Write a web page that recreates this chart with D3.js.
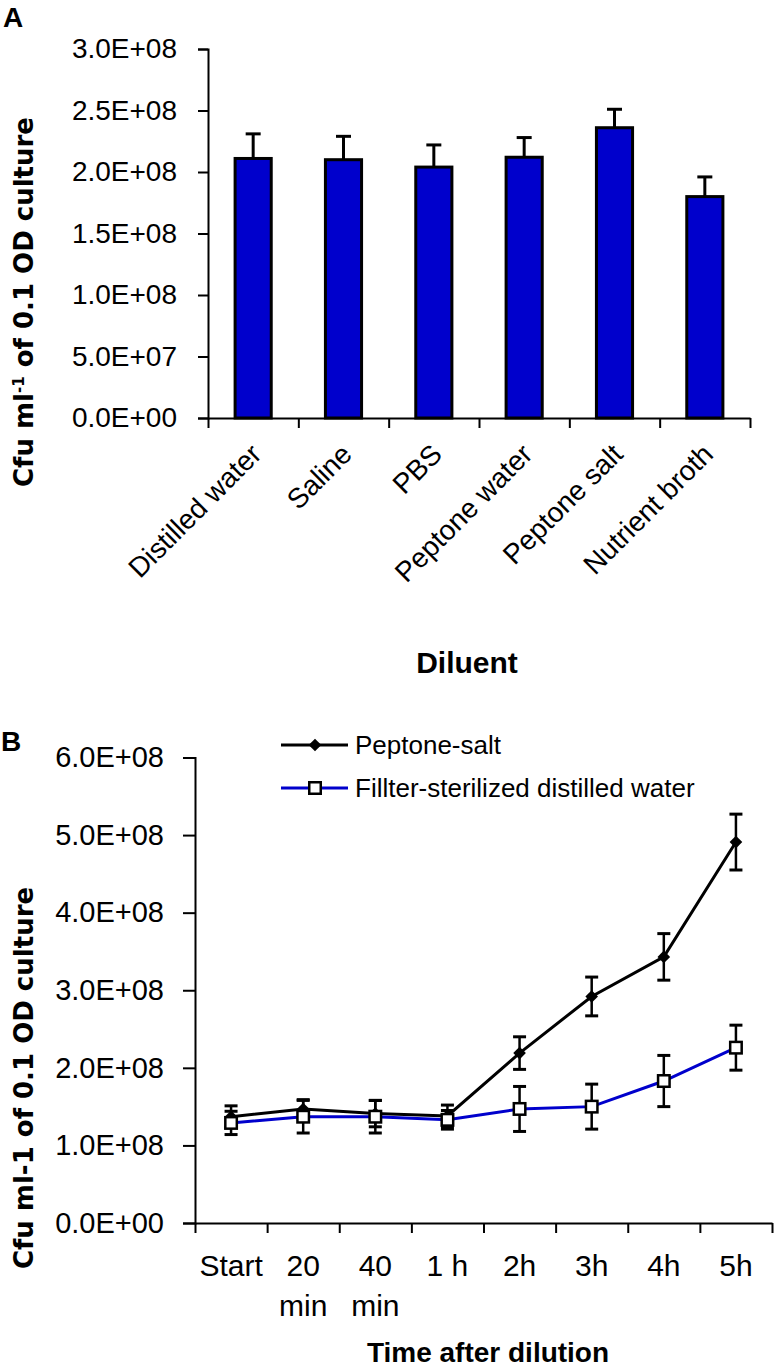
<!DOCTYPE html>
<html>
<head>
<meta charset="utf-8">
<script src="https://cdn.jsdelivr.net/npm/d3@7"></script>
<style>
  html, body { margin: 0; padding: 0; background: #fff; }
  svg { display: block; }
  text { font-family: "Liberation Sans", Arial, sans-serif; fill: #000; }
</style>
</head>
<body>
<svg id="chart" width="774" height="1370"></svg>
<script>
// ---------- Panel A data ----------
const diluents = ["Distilled water", "Saline", "PBS", "Peptone water", "Peptone salt", "Nutrient broth"];
const cfuMeans = [2.11e8, 2.10e8, 2.04e8, 2.12e8, 2.36e8, 1.80e8];
const cfuErrors = [0.20e8, 0.19e8, 0.18e8, 0.16e8, 0.15e8, 0.16e8];
const yTickValuesA = [0, 0.5e8, 1.0e8, 1.5e8, 2.0e8, 2.5e8, 3.0e8];
const yTickLabelsA = ["0.0E+00", "5.0E+07", "1.0E+08", "1.5E+08", "2.0E+08", "2.5E+08", "3.0E+08"];

// ---------- Panel B data ----------
const timePoints = ["Start", "20 min", "40 min", "1 h", "2h", "3h", "4h", "5h"];
const timeLabelLines = [["Start"], ["20", "min"], ["40", "min"], ["1 h"], ["2h"], ["3h"], ["4h"], ["5h"]];
const peptoneSalt = [1.37e8, 1.47e8, 1.41e8, 1.38e8, 2.19e8, 2.92e8, 3.43e8, 4.91e8];
const peptoneSaltErr = [0.14e8, 0.12e8, 0.17e8, 0.14e8, 0.21e8, 0.25e8, 0.30e8, 0.36e8];
const distilledWater = [1.29e8, 1.37e8, 1.37e8, 1.33e8, 1.47e8, 1.50e8, 1.83e8, 2.26e8];
const distilledWaterErr = [0.15e8, 0.21e8, 0.21e8, 0.12e8, 0.29e8, 0.29e8, 0.33e8, 0.29e8];
const seriesNames = ["Peptone-salt", "Fillter-sterilized distilled water"];
const yTickValuesB = [0, 1e8, 2e8, 3e8, 4e8, 5e8, 6e8];
const yTickLabelsB = ["0.0E+00", "1.0E+08", "2.0E+08", "3.0E+08", "4.0E+08", "5.0E+08", "6.0E+08"];

const BLUE = "#0000cc";
const svg = d3.select("#chart");

// ================= PANEL A =================
const gA = svg.append("g");
const yA = d3.scaleLinear().domain([0, 3e8]).range([418, 49]);
const xA = d3.scaleBand().domain(diluents).range([208, 750]).padding(0);
const idxA = d3.scaleLinear().domain([0, diluents.length]).range([208, 750]);

// y axis
const yAxisA = d3.axisLeft(yA).tickValues(yTickValuesA)
  .tickFormat((d, i) => yTickLabelsA[i]).tickSize(10).tickPadding(21);
const gyA = gA.append("g").attr("transform", "translate(208,0)").call(yAxisA);
gyA.select(".domain").attr("stroke", "#000").attr("stroke-width", 2);
gyA.selectAll(".tick line").attr("stroke", "#000").attr("stroke-width", 2);
gyA.selectAll(".tick text").style("font-size", "28px").style("font-family", "Liberation Sans, Arial, sans-serif");

// x axis (ticks at band boundaries)
const xAxisA = d3.axisBottom(idxA).tickValues(d3.range(diluents.length + 1))
  .tickFormat("").tickSize(10).tickSizeOuter(0);
const gxA = gA.append("g").attr("transform", "translate(0,418)").call(xAxisA);
gxA.select(".domain").attr("stroke", "#000").attr("stroke-width", 2);
gxA.selectAll(".tick line").attr("stroke", "#000").attr("stroke-width", 2);

// error bars (upper only)
const capA = 7.5;
diluents.forEach((c, i) => {
  const cx = xA(c) + xA.bandwidth() / 2;
  gA.append("line").attr("x1", cx).attr("x2", cx)
    .attr("y1", yA(cfuMeans[i])).attr("y2", yA(cfuMeans[i] + cfuErrors[i]))
    .attr("stroke", "#000").attr("stroke-width", 3);
  gA.append("line").attr("x1", cx - capA).attr("x2", cx + capA)
    .attr("y1", yA(cfuMeans[i] + cfuErrors[i])).attr("y2", yA(cfuMeans[i] + cfuErrors[i]))
    .attr("stroke", "#000").attr("stroke-width", 3);
});

// bars
const barW = xA.bandwidth() * 0.4;
gA.selectAll("rect.bar").data(diluents).join("rect")
  .attr("class", "bar")
  .attr("x", d => xA(d) + (xA.bandwidth() - barW) / 2)
  .attr("width", barW)
  .attr("y", (d, i) => yA(cfuMeans[i]))
  .attr("height", (d, i) => yA(0) - yA(cfuMeans[i]))
  .attr("fill", BLUE).attr("stroke", "#000").attr("stroke-width", 3);

// x labels rotated
gA.selectAll("text.xlab").data(diluents).join("text")
  .attr("class", "xlab")
  .attr("transform", d => `translate(${xA(d) + xA.bandwidth() / 2 + 10},456) rotate(-45)`)
  .attr("text-anchor", "end")
  .style("font-size", "28px")
  .text(d => d);

// axis titles
const titleA = gA.append("text")
  .attr("transform", "translate(33,302) rotate(-90)")
  .attr("text-anchor", "middle")
  .style("font-family", "DejaVu Sans, sans-serif")
  .style("font-size", "26px").style("font-weight", "bold");
titleA.append("tspan").text("Cfu ml");
titleA.append("tspan").text("-1").style("font-size", "15px").attr("baseline-shift", "super");
titleA.append("tspan").text(" of  0.1 OD culture");

gA.append("text").attr("x", 467).attr("y", 673).attr("text-anchor", "middle")
  .style("font-size", "30px").style("font-weight", "bold").text("Diluent");

svg.append("text").attr("x", 3).attr("y", 27)
  .style("font-size", "28px").style("font-weight", "bold").text("A");

// ================= PANEL B =================
const gB = svg.append("g");
const yB = d3.scaleLinear().domain([0, 6e8]).range([1223, 757.5]);
const xB = d3.scaleBand().domain(timePoints).range([195, 772]).padding(0);
const idxB = d3.scaleLinear().domain([0, timePoints.length]).range([195, 772]);
const cxB = d => xB(d) + xB.bandwidth() / 2;

const yAxisB = d3.axisLeft(yB).tickValues(yTickValuesB)
  .tickFormat((d, i) => yTickLabelsB[i]).tickSize(12).tickPadding(19);
const gyB = gB.append("g").attr("transform", "translate(195,0)").call(yAxisB);
gyB.select(".domain").attr("stroke", "#000").attr("stroke-width", 2);
gyB.selectAll(".tick line").attr("stroke", "#000").attr("stroke-width", 2);
gyB.selectAll(".tick text").style("font-size", "29px").style("font-family", "Liberation Sans, Arial, sans-serif");

const xAxisB = d3.axisBottom(idxB).tickValues(d3.range(timePoints.length + 1))
  .tickFormat("").tickSize(10).tickSizeOuter(0);
const gxB = gB.append("g").attr("transform", "translate(0,1223)").call(xAxisB);
gxB.select(".domain").attr("stroke", "#000").attr("stroke-width", 2);
gxB.selectAll(".tick line").attr("stroke", "#000").attr("stroke-width", 2);

// x labels (multi-line)
timePoints.forEach((t, i) => {
  const txt = gB.append("text").attr("text-anchor", "middle").style("font-size", "30px");
  timeLabelLines[i].forEach((line, j) => {
    txt.append("tspan").attr("x", cxB(t)).attr("y", 1276 + j * 40).text(line);
  });
});

// error bars
const capB = 6.5;
function errBars(vals, errs) {
  timePoints.forEach((t, i) => {
    const x = cxB(t), yt = yB(vals[i] + errs[i]), yb = yB(vals[i] - errs[i]);
    gB.append("line").attr("x1", x).attr("x2", x).attr("y1", yt).attr("y2", yb)
      .attr("stroke", "#000").attr("stroke-width", 2.5);
    [yt, yb].forEach(y => gB.append("line").attr("x1", x - capB).attr("x2", x + capB)
      .attr("y1", y).attr("y2", y).attr("stroke", "#000").attr("stroke-width", 3));
  });
}
errBars(peptoneSalt, peptoneSaltErr);
errBars(distilledWater, distilledWaterErr);

const lineGen = vals => d3.line().x((d, i) => cxB(timePoints[i])).y(d => yB(d))(vals);

// peptone-salt line + diamonds
gB.append("path").attr("d", lineGen(peptoneSalt)).attr("fill", "none")
  .attr("stroke", "#000").attr("stroke-width", 3);
const diamond = d3.symbol().type(d3.symbolSquare).size(80);
gB.selectAll("path.dia").data(peptoneSalt).join("path").attr("class", "dia")
  .attr("d", diamond())
  .attr("transform", (d, i) => `translate(${cxB(timePoints[i])},${yB(d)}) rotate(45)`)
  .attr("fill", "#000");

// distilled water line + squares
gB.append("path").attr("d", lineGen(distilledWater)).attr("fill", "none")
  .attr("stroke", BLUE).attr("stroke-width", 3);
const sq = 11.5;
gB.selectAll("rect.sq").data(distilledWater).join("rect").attr("class", "sq")
  .attr("x", (d, i) => cxB(timePoints[i]) - sq / 2).attr("y", d => yB(d) - sq / 2)
  .attr("width", sq).attr("height", sq)
  .attr("fill", "#fff").attr("stroke", "#000").attr("stroke-width", 2.5);

// legend
const legY = [745, 788];
gB.append("line").attr("x1", 281).attr("x2", 348).attr("y1", legY[0]).attr("y2", legY[0])
  .attr("stroke", "#000").attr("stroke-width", 3);
gB.append("path").attr("d", diamond()).attr("transform", `translate(315,${legY[0]}) rotate(45)`).attr("fill", "#000");
gB.append("line").attr("x1", 281).attr("x2", 348).attr("y1", legY[1]).attr("y2", legY[1])
  .attr("stroke", BLUE).attr("stroke-width", 3);
gB.append("rect").attr("x", 315 - sq / 2).attr("y", legY[1] - sq / 2).attr("width", sq).attr("height", sq)
  .attr("fill", "#fff").attr("stroke", "#000").attr("stroke-width", 2.5);
seriesNames.forEach((n, i) => {
  gB.append("text").attr("x", 355).attr("y", legY[i]).attr("dy", "0.36em")
    .style("font-size", "26px").text(n);
});

// titles
gB.append("text").attr("transform", "translate(33,1078) rotate(-90)")
  .attr("text-anchor", "middle")
  .style("font-family", "DejaVu Sans, sans-serif")
  .style("font-size", "26px").style("font-weight", "bold")
  .text("Cfu ml-1 of 0.1 OD culture");
gB.append("text").attr("x", 488).attr("y", 1362).attr("text-anchor", "middle")
  .style("font-size", "28px").style("font-weight", "bold").text("Time after dilution");

svg.append("text").attr("x", 1).attr("y", 751)
  .style("font-size", "28px").style("font-weight", "bold").text("B");
</script>
</body>
</html>
